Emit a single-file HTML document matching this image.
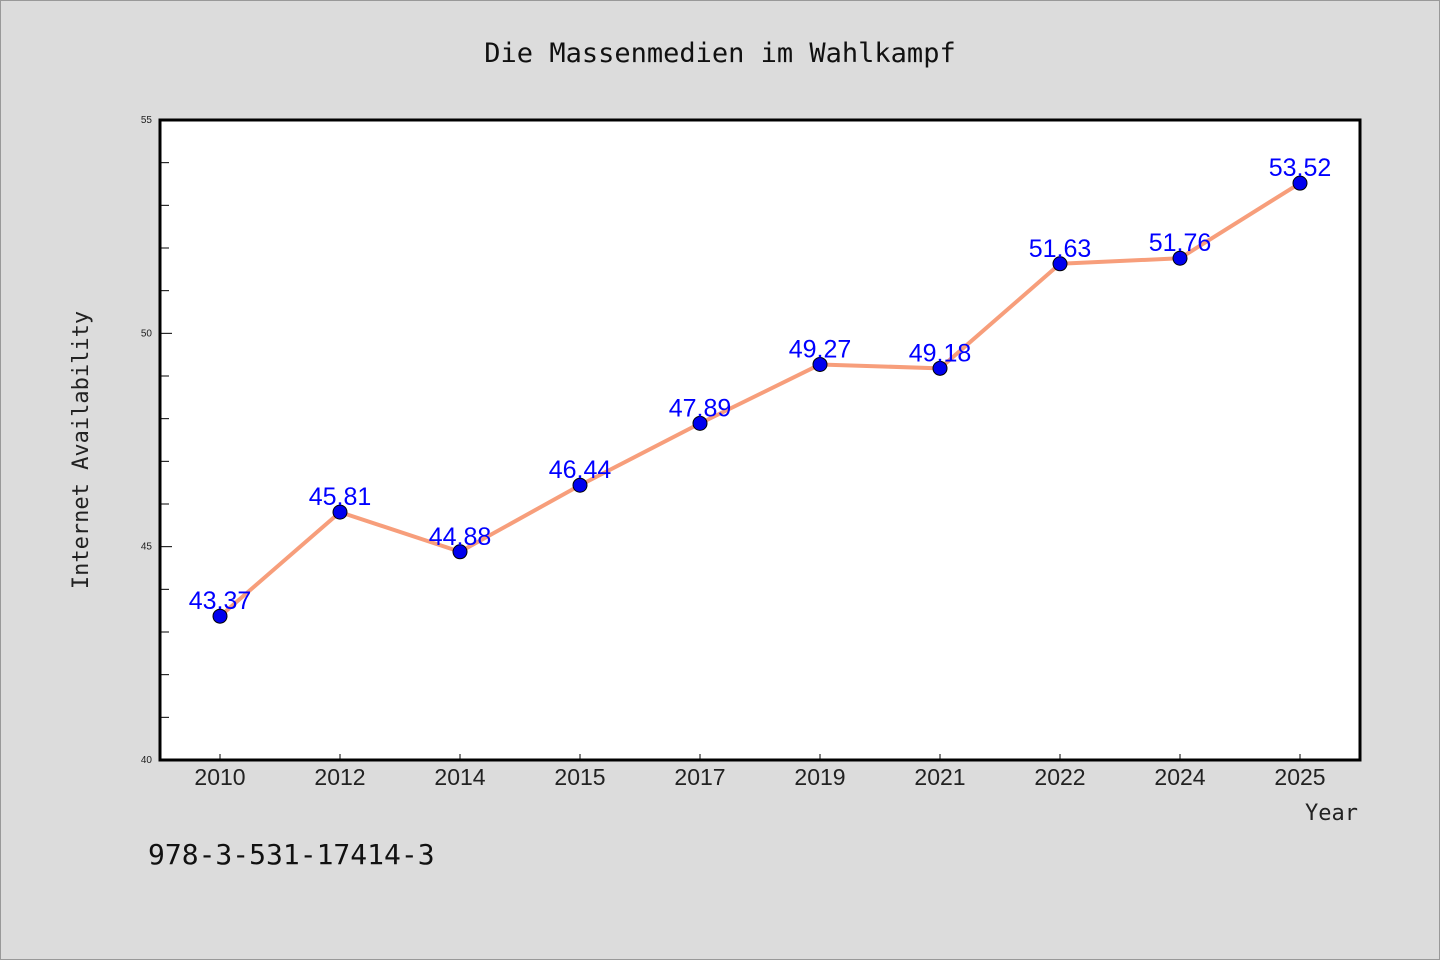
<!DOCTYPE html>
<html><head><meta charset="utf-8"><style>
body{margin:0;background:#dcdcdc;}
svg{display:block;font-family:"Liberation Sans","DejaVu Sans",sans-serif;}
</style></head><body>
<svg width="1440" height="960">
<rect x="0.5" y="0.5" width="1439" height="959" fill="#dcdcdc" stroke="#999"/>
<text x="720" y="62" text-anchor="middle" font-family="'DejaVu Sans Mono','Liberation Mono',monospace" font-size="27" fill="#111">Die Massenmedien im Wahlkampf</text>
<rect x="160" y="120" width="1200" height="640" fill="#fff"/>
<g id="axes"></g>
<g id="marks"></g>
<rect x="160" y="120" width="1200" height="640" fill="none" stroke="#000" stroke-width="3"/>
<text x="88" y="450" text-anchor="middle" transform="rotate(-90 88 450)" font-family="'DejaVu Sans Mono','Liberation Mono',monospace" font-size="22" fill="#222">Internet Availability</text>
<text x="1358" y="820" text-anchor="end" font-family="'DejaVu Sans Mono','Liberation Mono',monospace" font-size="22" fill="#222">Year</text>
<text x="148" y="864" font-family="'DejaVu Sans Mono','Liberation Mono',monospace" font-size="28" fill="#111">978-3-531-17414-3</text>
</svg>
<script>
const categories=["2010","2012","2014","2015","2017","2019","2021","2022","2024","2025"];
const values=[43.37,45.81,44.88,46.44,47.89,49.27,49.18,51.63,51.76,53.52];
const yTicks=[40,45,50,55];
const L=160,T=120,W=1200,H=640,yMin=40,yMax=55;
const NS="http://www.w3.org/2000/svg";
const xS=i=>L+W/categories.length*(i+0.5);
const yS=v=>T+H-(v-yMin)/(yMax-yMin)*H;
function mk(t,a,p){const e=document.createElementNS(NS,t);for(const k in a)e.setAttribute(k,a[k]);p.appendChild(e);return e;}
const ax=document.getElementById('axes'),mg=document.getElementById('marks');
for(let v=yMin;v<=yMax;v++){
 const major=yTicks.includes(v);
 const l=mk('line',{x1:L,x2:L+(major?12:9),y1:yS(v),y2:yS(v),stroke:'#000','stroke-width':1},ax);
 
 
}
yTicks.forEach(v=>{
 const t=mk('text',{x:L-8,y:yS(v)+3,'text-anchor':'end','font-size':10,fill:'#222'},ax);t.textContent=v;
 
 
});
categories.forEach((c,i)=>{
 const l=mk('line',{x1:xS(i),x2:xS(i),y1:T+H,y2:T+H-6,stroke:'#000','stroke-width':1},ax);
 
 
 const t=mk('text',{x:xS(i),y:T+H+25,'text-anchor':'middle','font-size':23,fill:'#222'},ax);t.textContent=c;
 
 
});
const line=mk('polyline',{points:values.map((v,i)=>xS(i)+','+yS(v)).join(' '),fill:'none',stroke:'#f79e7b','stroke-width':4,'stroke-linejoin':'round'},mg);


values.forEach((v,i)=>{
 const c=mk('circle',{cx:xS(i),cy:yS(v),r:7,fill:'#0000ee',stroke:'#000','stroke-width':1},mg);
 
 
 const t=mk('text',{x:xS(i),y:yS(v)-7,'text-anchor':'middle','font-size':25,fill:'#0000ff'},mg);t.textContent=v.toFixed(2);
 
 
});
</script>
</body></html>
